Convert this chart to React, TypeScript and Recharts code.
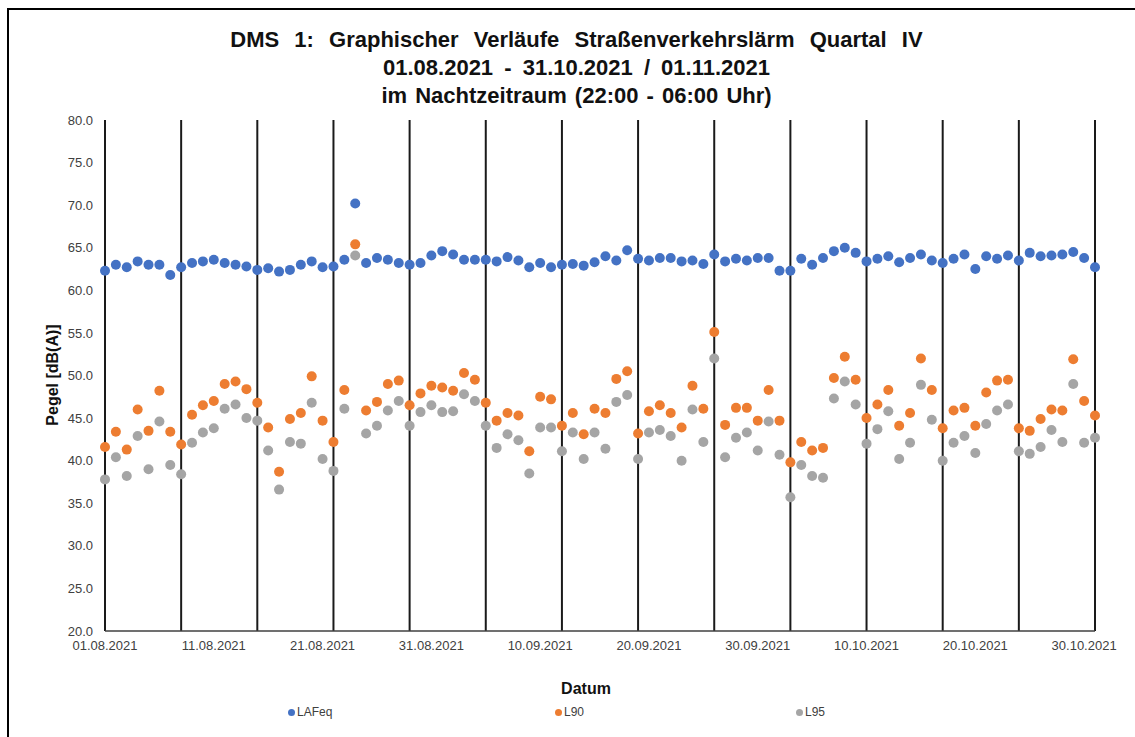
import { ScatterChart, Scatter, XAxis, YAxis, ReferenceLine, Legend } from 'recharts';

const tickDays = [0, 10, 20, 30, 40, 50, 60, 70, 80, 90];
const tickLabels = ['01.08.2021', '11.08.2021', '21.08.2021', '31.08.2021', '10.09.2021', '20.09.2021', '30.09.2021', '10.10.2021', '20.10.2021', '30.10.2021'];
const weekLines = [0, 7, 14, 21, 28, 35, 42, 49, 56, 63, 70, 77, 84, 91];
const yTicks = [20, 25, 30, 35, 40, 45, 50, 55, 60, 65, 70, 75, 80];
const seriesNames = ['LAFeq', 'L90', 'L95'];

// one value per night, 01.08.2021 - 31.10.2021
const lafeq = [
  62.3, 63.0, 62.7, 63.4, 63.0, 63.0, 61.8, 62.7, 63.2, 63.4,
  63.6, 63.2, 63.0, 62.8, 62.4, 62.6, 62.2, 62.4, 63.0, 63.4,
  62.7, 62.8, 63.6, 70.2, 63.2, 63.8, 63.6, 63.2, 63.0, 63.2,
  64.1, 64.6, 64.2, 63.6, 63.6, 63.6, 63.4, 63.9, 63.5, 62.7,
  63.2, 62.7, 63.0, 63.1, 62.9, 63.3, 64.0, 63.5, 64.7, 63.7,
  63.5, 63.8, 63.8, 63.4, 63.5, 63.1, 64.2, 63.4, 63.7, 63.5,
  63.8, 63.8, 62.3, 62.3, 63.7, 63.0, 63.8, 64.6, 65.0, 64.4,
  63.4, 63.7, 64.0, 63.3, 63.8, 64.2, 63.5, 63.2, 63.7, 64.2,
  62.5, 64.0, 63.7, 64.1, 63.5, 64.4, 64.0, 64.1, 64.2, 64.5,
  63.8, 62.7,
];

const l90 = [
  41.6, 43.4, 41.3, 46.0, 43.5, 48.2, 43.4, 41.9, 45.4, 46.5,
  47.0, 49.0, 49.3, 48.4, 46.8, 43.9, 38.7, 44.9, 45.6, 49.9,
  44.7, 42.2, 48.3, 65.4, 45.9, 46.9, 49.0, 49.4, 46.5, 47.9,
  48.8, 48.6, 48.2, 50.3, 49.5, 46.8, 44.7, 45.6, 45.3, 41.1,
  47.5, 47.2, 44.1, 45.6, 43.1, 46.1, 45.6, 49.6, 50.5, 43.2,
  45.8, 46.5, 45.6, 43.9, 48.8, 46.1, 55.1, 44.2, 46.2, 46.2,
  44.7, 48.3, 44.7, 39.8, 42.2, 41.2, 41.5, 49.7, 52.2, 49.5,
  45.0, 46.6, 48.3, 44.1, 45.6, 52.0, 48.3, 43.8, 45.9, 46.2,
  44.1, 48.0, 49.4, 49.5, 43.8, 43.5, 44.9, 46.0, 45.9, 51.9,
  47.0, 45.3,
];

const l95 = [
  37.8, 40.4, 38.2, 42.9, 39.0, 44.6, 39.5, 38.4, 42.1, 43.3,
  43.8, 46.1, 46.6, 45.0, 44.7, 41.2, 36.6, 42.2, 42.0, 46.8,
  40.2, 38.8, 46.1, 64.1, 43.2, 44.1, 45.9, 47.0, 44.1, 45.7,
  46.5, 45.7, 45.8, 47.8, 47.0, 44.1, 41.5, 43.1, 42.4, 38.5,
  43.9, 43.9, 41.1, 43.3, 40.2, 43.3, 41.4, 46.9, 47.7, 40.2,
  43.3, 43.6, 42.9, 40.0, 46.0, 42.2, 52.0, 40.4, 42.7, 43.3,
  41.2, 44.6, 40.7, 35.7, 39.5, 38.2, 38.0, 47.3, 49.3, 46.6,
  42.0, 43.7, 45.8, 40.2, 42.1, 48.9, 44.8, 40.0, 42.1, 42.9,
  40.9, 44.3, 45.9, 46.6, 41.1, 40.8, 41.6, 43.6, 42.2, 49.0,
  42.1, 42.7,
];

const toPoints = (vals: number[]) => vals.map((v, i) => ({ day: i, value: v }));

const FONT = '"Liberation Sans", Arial, sans-serif';
const legendX = [288, 555, 796];

const dot = (color: string) => (props: any) => (
  <circle cx={props.cx} cy={props.cy} r={5} fill={color} />
);

const renderLegend = (props: any) => {
  const payload = [...(props.payload || [])].sort(
    (a: any, b: any) => seriesNames.indexOf(a.value) - seriesNames.indexOf(b.value)
  );
  return (
    <div style={{ position: 'relative', width: 1135, height: 20, fontFamily: FONT, fontSize: 12, color: '#404040' }}>
      {payload.map((p: any, i: number) => (
        <div key={p.value} style={{ position: 'absolute', left: legendX[i], top: 2, display: 'flex', alignItems: 'center' }}>
          <span style={{ width: 7, height: 7, borderRadius: 4, background: p.color, marginRight: 2 }} />
          <span>{p.value}</span>
        </div>
      ))}
    </div>
  );
};

export default function App() {
  return (
    <div style={{ position: 'absolute', left: 0, top: 0, width: 1135, height: 737, overflow: 'hidden', background: '#fff' }}>
      <div style={{ position: 'absolute', left: 7, top: 8, width: 1300, height: 900, borderTop: '2px solid #000', borderLeft: '2px solid #000' }} />
      <div style={{ position: 'absolute', left: 0, top: 26, width: 1135, paddingLeft: 18, boxSizing: 'border-box', textAlign: 'center', fontFamily: FONT, fontWeight: 'bold', fontSize: 22, lineHeight: '28px', color: '#111' }}>
        <div style={{ wordSpacing: 9 }}>DMS 1: Graphischer Verläufe Straßenverkehrslärm Quartal IV</div>
        <div style={{ wordSpacing: 5 }}>01.08.2021 - 31.10.2021 / 01.11.2021</div>
        <div style={{ wordSpacing: 2 }}>im Nachtzeitraum (22:00 - 06:00 Uhr)</div>
      </div>
      <div style={{ position: 'absolute', left: 0, top: 0 }}>
        <ScatterChart width={1135} height={737} margin={{ top: 120, right: 40, left: 0, bottom: 14 }}>
          {weekLines.map((w) => (
            <ReferenceLine key={w} x={w} stroke="#1a1a1a" strokeWidth={2} />
          ))}
          <XAxis
            type="number"
            dataKey="day"
            domain={[0, 91]}
            ticks={tickDays}
            tickFormatter={(v: number) => tickLabels[tickDays.indexOf(v)] ?? ''}
            interval={0}
            height={72}
            tickSize={0}
            tickMargin={10}
            axisLine={{ stroke: '#404040', strokeWidth: 1.5 }}
            tick={{ fontFamily: FONT, fontSize: 13, fill: '#404040' }}
            label={{ value: 'Datum', position: 'insideBottom', offset: 9, dx: -14, style: { fontFamily: FONT, fontWeight: 'bold', fontSize: 16, fill: '#111' } }}
          />
          <YAxis
            type="number"
            dataKey="value"
            domain={[20, 80]}
            ticks={yTicks}
            interval={0}
            width={105}
            tickSize={0}
            tickMargin={12}
            axisLine={false}
            tickFormatter={(v: number) => v.toFixed(1)}
            tick={{ fontFamily: FONT, fontSize: 13, fill: '#404040' }}
            label={{
              content: () => (
                <text x={52} y={375} transform="rotate(-90 52 375)" textAnchor="middle" dominantBaseline="central" fontFamily={FONT} fontWeight="bold" fontSize={16} fill="#111">
                  Pegel [dB(A)]
                </text>
              ),
            }}
          />
          <Legend verticalAlign="bottom" content={renderLegend} wrapperStyle={{ left: 0, width: 1135 }} />
          <Scatter name="LAFeq" data={toPoints(lafeq)} fill="#4472C4" shape={dot('#4472C4')} isAnimationActive={false} />
          <Scatter name="L90" data={toPoints(l90)} fill="#ED7D31" shape={dot('#ED7D31')} isAnimationActive={false} />
          <Scatter name="L95" data={toPoints(l95)} fill="#A5A5A5" shape={dot('#A5A5A5')} isAnimationActive={false} />
        </ScatterChart>
      </div>
    </div>
  );
}
